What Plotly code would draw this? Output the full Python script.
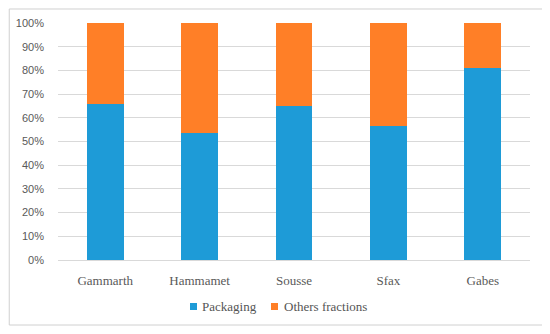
import plotly.graph_objects as go

categories = ["Gammarth", "Hammamet", "Sousse", "Sfax", "Gabes"]
packaging = [66, 53.5, 65, 56.5, 81]
others = [100 - v for v in packaging]
series_names = ["Packaging", "Others fractions"]
y_ticks = [0, 10, 20, 30, 40, 50, 60, 70, 80, 90, 100]
y_tick_labels = [f"{v}%" for v in y_ticks]

BLUE = "#1E9BD7"
ORANGE = "#FF7F27"
SERIF = "Liberation Serif, DejaVu Serif, serif"
SANS = "Liberation Sans, Open Sans, sans-serif"

fig = go.Figure()
fig.add_trace(go.Bar(x=categories, y=packaging, name=series_names[0], marker_color=BLUE,
                     marker_line_width=0, showlegend=False))
fig.add_trace(go.Bar(x=categories, y=others, name=series_names[1], marker_color=ORANGE,
                     marker_line_width=0, showlegend=False))

# legend drawn as swatches + text below the axis
legend_items = [
    (series_names[0], BLUE, 0.2797, 0.3008),
    (series_names[1], ORANGE, 0.4513, 0.4746),
]
shapes = [dict(type="rect", xref="paper", yref="paper",
               x0=-0.1033, x1=1.0275, y0=-0.2743, y1=1.0591,
               line=dict(color="#D0D0D0", width=1), fillcolor="rgba(0,0,0,0)",
               layer="above")]
annotations = []
for name, color, sx, tx in legend_items:
    shapes.append(dict(type="rect", xref="paper", yref="paper",
                       x0=sx, x1=sx + 0.0148, y0=-0.2110, y1=-0.1814,
                       line=dict(width=0), fillcolor=color))
    annotations.append(dict(text=name, xref="paper", yref="paper", x=tx, y=-0.1962,
                            xanchor="left", yanchor="middle", showarrow=False,
                            font=dict(family=SERIF, size=13, color="#555555")))

fig.update_layout(
    barmode="stack",
    bargap=0.61,
    width=542, height=326,
    margin=dict(l=50, r=20, t=15, b=74, autoexpand=False),
    paper_bgcolor="white",
    plot_bgcolor="white",
    showlegend=False,
    xaxis=dict(showgrid=False, showline=True, linecolor="#D9D9D9", linewidth=1,
               tickfont=dict(family=SERIF, size=13, color="#595959"),
               ticks="", ticklabelstandoff=8, automargin=False),
    yaxis=dict(range=[0, 100], tickvals=y_ticks, ticktext=y_tick_labels,
               showgrid=True, gridcolor="#D9D9D9", gridwidth=1, zeroline=False,
               tickfont=dict(family=SANS, size=11, color="#595959"),
               ticks="", ticklabelstandoff=13, automargin=False),
    shapes=shapes,
    annotations=annotations,
)

fig.write_html("out.html")
